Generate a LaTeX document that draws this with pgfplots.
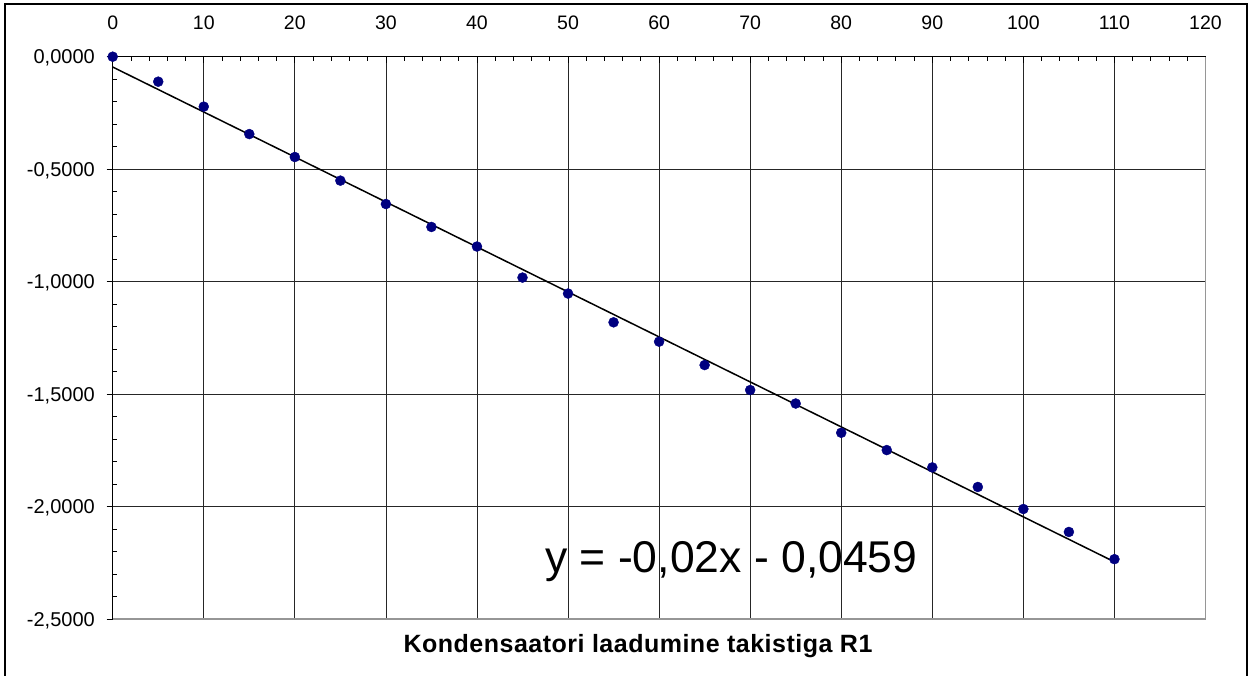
\documentclass[border=0pt]{standalone}
\usepackage{fontspec}
\setmainfont{Liberation Sans}
\usepackage{pgfplots}
\pgfplotsset{compat=1.18}

\definecolor{pointblue}{RGB}{0,0,128}
\definecolor{framegray}{RGB}{150,150,150}

\begin{document}
\begin{tikzpicture}
\begin{axis}[
    at={(112.7pt,56pt)}, anchor=south west,
    scale only axis,
    width=1092.8pt, height=562.3pt,
    xmin=0, xmax=120,
    ymin=-2.5, ymax=0,
    axis x line*=top,
    axis y line*=left,
    axis line style={black, line width=1pt},
    xtick={0,10,...,120},
    ytick={-2.5,-2,-1.5,-1,-0.5,0},
    minor x tick num=4,
    minor y tick num=4,
    tick align=inside,
    major tick length=6pt,
    minor tick length=4.5pt,
    every major y tick/.append style={xshift=-6pt},
    tick style={black, line width=0.8pt},
    grid=major,
    major grid style={black!85, line width=0.8pt},
    /pgf/number format/assume math mode=true,
    xticklabel style={font=\fontsize{19.5}{22}\selectfont, anchor=base, inner sep=0pt, yshift=27.4pt},
    yticklabel style={font=\fontsize{20}{24}\selectfont, anchor=base east, inner sep=0pt, xshift=-17.7pt, yshift=-7pt,
        /pgf/number format/.cd, fixed, fixed zerofill, precision=4, use comma},
    clip=false,
]
% gray plot-area border (bottom and right)
\draw[framegray, line width=1.5pt] (rel axis cs:0,0) -- (rel axis cs:1,0) -- (rel axis cs:1,1);

% linear trendline y = -0,02x - 0,0459
\addplot[black, line width=1.5pt, no marks] coordinates {(0,-0.0459) (110,-2.2459)};

\addplot[only marks, mark=*, mark size=5pt, color=pointblue] coordinates {
    (0,0)
    (5,-0.111)
    (10,-0.222)
    (15,-0.344)
    (20,-0.446)
    (25,-0.551)
    (30,-0.655)
    (35,-0.757)
    (40,-0.844)
    (45,-0.982)
    (50,-1.053)
    (55,-1.181)
    (60,-1.267)
    (65,-1.371)
    (70,-1.482)
    (75,-1.542)
    (80,-1.672)
    (85,-1.749)
    (90,-1.826)
    (95,-1.913)
    (100,-2.011)
    (105,-2.113)
    (110,-2.234)
};

\node[anchor=base west, inner sep=0pt, font=\fontsize{44.5}{50}\selectfont]
    at (axis cs:47.47,-2.294) {y = -0,02x - 0,0459};
\end{axis}

% chart title below the plot
\node[anchor=base, inner sep=0pt, font=\fontsize{25}{29}\selectfont\bfseries\addfontfeature{LetterSpace=2}] at (638pt,22.3pt)
    {Kondensaatori laadumine takistiga R1};

% outer chart frame
\draw[black, line width=2pt] (5pt,-5pt) -- (5pt,670.7pt) -- (1247pt,670.7pt) -- (1247pt,-5pt);

\pgfresetboundingbox
\path[use as bounding box] (0,0) rectangle (1250pt,675pt);
\end{tikzpicture}
\end{document}
